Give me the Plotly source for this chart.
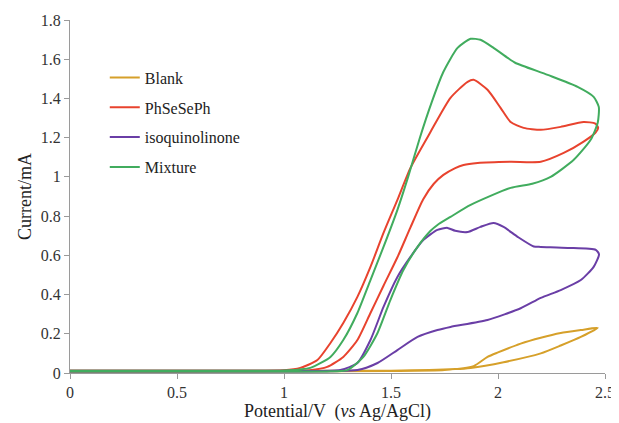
import plotly.graph_objects as go

# Potential (V vs Ag/AgCl) and current (mA) for each cyclic voltammogram: forward scan then reverse scan
blank_v = [0, 0.5, 1.0, 1.5, 1.8, 1.872, 2.026, 2.2, 2.293, 2.387, 2.466,
           2.387, 2.293, 2.2, 2.106, 2.0, 1.951, 1.886, 1.75, 1.5, 1.0, 0.5, 0]
blank_i = [0.012, 0.012, 0.012, 0.012, 0.02, 0.026, 0.055, 0.1, 0.14, 0.184, 0.23,
           0.219, 0.204, 0.18, 0.15, 0.105, 0.082, 0.035, 0.015, 0.01, 0.008, 0.008, 0.008]

phse_v = [0, 0.5, 1.0, 1.076, 1.156, 1.217, 1.277, 1.343, 1.404, 1.465, 1.53, 1.591, 1.685, 1.778,
          1.858, 1.886, 1.951, 2.012, 2.059, 2.12, 2.2, 2.293, 2.40, 2.455, 2.468,
          2.455, 2.40, 2.307, 2.2, 2.059, 1.905, 1.839, 1.80, 1.745, 1.70, 1.65, 1.59, 1.53,
          1.465, 1.404, 1.343, 1.277, 1.202, 1.12, 1.0, 0.5, 0]
phse_i = [0.012, 0.012, 0.014, 0.026, 0.066, 0.153, 0.255, 0.388, 0.541, 0.714, 0.883, 1.046, 1.23, 1.403,
          1.485, 1.495, 1.444, 1.352, 1.28, 1.25, 1.24, 1.255, 1.28, 1.272, 1.25,
          1.225, 1.18, 1.122, 1.077, 1.077, 1.071, 1.061, 1.045, 1.01, 0.965, 0.885, 0.74, 0.59,
          0.445, 0.306, 0.168, 0.082, 0.031, 0.014, 0.01, 0.008, 0.008]

isoq_v = [0, 0.5, 1.0, 1.263, 1.343, 1.404, 1.465, 1.53, 1.591, 1.652, 1.717, 1.764, 1.80, 1.858,
          1.918, 1.979, 2.026, 2.092, 2.167, 2.2, 2.326, 2.457, 2.472,
          2.447, 2.387, 2.293, 2.2, 2.106, 1.951, 1.778, 1.717, 1.624, 1.53, 1.437, 1.343, 1.0, 0.5, 0]
isoq_i = [0.012, 0.012, 0.012, 0.015, 0.051, 0.168, 0.337, 0.49, 0.592, 0.679, 0.73, 0.74, 0.725, 0.719,
          0.745, 0.765, 0.745, 0.694, 0.645, 0.643, 0.638, 0.628, 0.605,
          0.541, 0.474, 0.423, 0.383, 0.33, 0.27, 0.235, 0.219, 0.184, 0.117, 0.051, 0.015, 0.008, 0.008, 0.008]

mix_v = [0, 0.5, 1.0, 1.123, 1.217, 1.277, 1.343, 1.404, 1.465, 1.53, 1.58, 1.635, 1.69, 1.745,
         1.811, 1.872, 1.918, 1.979, 2.045, 2.08, 2.232, 2.372, 2.447, 2.471,
         2.466, 2.433, 2.354, 2.246, 2.16, 2.059, 1.872, 1.778, 1.717, 1.685, 1.624, 1.558, 1.497,
         1.437, 1.371, 1.296, 1.2, 1.0, 0.5, 0]
mix_i = [0.012, 0.012, 0.013, 0.026, 0.082, 0.168, 0.306, 0.474, 0.643, 0.832, 1.0, 1.2, 1.38, 1.536,
         1.658, 1.704, 1.699, 1.658, 1.607, 1.582, 1.52, 1.459, 1.408, 1.357,
         1.276, 1.189, 1.087, 1.0, 0.965, 0.944, 0.857, 0.796, 0.755, 0.725, 0.643, 0.525, 0.372,
         0.204, 0.082, 0.015, 0.008, 0.008, 0.008, 0.008]

series = [
    ("Blank", blank_v, blank_i, "#D6A02A"),
    ("PhSeSePh", phse_v, phse_i, "#E8432E"),
    ("isoquinolinone", isoq_v, isoq_i, "#6A3EA6"),
    ("Mixture", mix_v, mix_i, "#41AC5E"),
]

x_ticks = [0, 0.5, 1, 1.5, 2, 2.5]
y_ticks = [0, 0.2, 0.4, 0.6, 0.8, 1, 1.2, 1.4, 1.6, 1.8]

fig = go.Figure()
for name, v, i, c in series:
    fig.add_trace(go.Scatter(x=v, y=i, mode="lines", name=name, legendgroup=name,
                             line=dict(color=c, width=2, shape="spline", smoothing=0.6)))

axis_common = dict(showgrid=False, zeroline=False, showline=True, linecolor="#9a9a9a", linewidth=1,
                   ticks="outside", ticklen=5, tickcolor="#9a9a9a", automargin=False,
                   tickfont=dict(family="Liberation Serif", size=16, color="#333333"))

# The page body adds an 8px offset, so the figure is sized to fit the 619x423 window.
fig.update_layout(
    width=611, height=415,
    margin=dict(l=62, r=14, t=12, b=50),
    paper_bgcolor="white", plot_bgcolor="white",
    font=dict(family="Liberation Serif", color="#222222"),
    xaxis=dict(range=[0, 2.5], tickvals=x_ticks, ticktext=[str(t) for t in x_ticks],
               title=dict(text="Potential/V  (<i>vs</i> Ag/AgCl)", font=dict(size=18), standoff=2),
               **axis_common),
    yaxis=dict(range=[0, 1.8], tickvals=y_ticks, ticktext=[str(t) for t in y_ticks],
               title=dict(text="Current/mA", font=dict(size=18), standoff=4),
               **axis_common),
    showlegend=True,
    legend=dict(x=0.065, y=0.885, xanchor="left", yanchor="top", bgcolor="rgba(0,0,0,0)",
                font=dict(family="Liberation Serif", size=16, color="#222222"),
                tracegroupgap=6, itemwidth=30),
)

fig.write_html("out.html")
